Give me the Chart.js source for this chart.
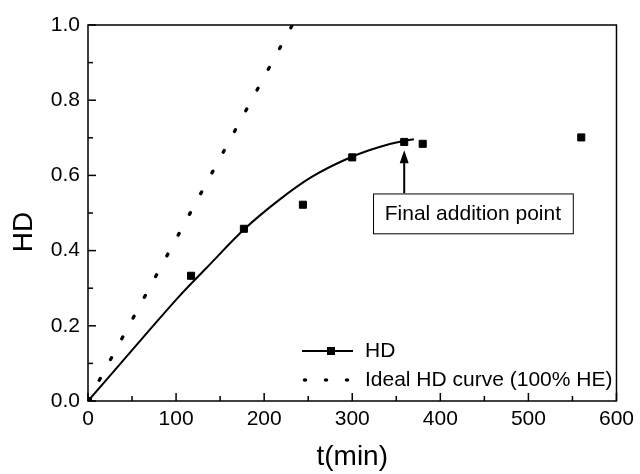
<!DOCTYPE html>
<html>
<head>
<meta charset="utf-8">
<script src="https://cdn.jsdelivr.net/npm/chart.js@4/dist/chart.umd.min.js"></script>
<style>
    html, body { margin: 0; padding: 0; background: #fff; }
</style>
</head>
<body>
<canvas id="chart" width="640" height="474"></canvas>
<script>
// measured HD points
const hdTime = [0, 117, 177, 244, 300, 359, 380, 560];
const hdValue = [0, 0.333, 0.458, 0.522, 0.648, 0.689, 0.684, 0.701];

// fitted curve
const fitTime = [0, 67, 103, 135, 177, 216, 254, 299, 330, 359, 370];
const fitValue = [0, 0.181, 0.277, 0.355, 0.456, 0.533, 0.596, 0.649, 0.675, 0.692, 0.696];

// ideal HD curve (100% HE)
const idealTime = [0, 232];
const idealValue = [0, 1.0];

const xTickValues = [0, 100, 200, 300, 400, 500, 600];
const xMinorValues = [50, 150, 250, 350, 450, 550];
const yTickValues = [0, 0.2, 0.4, 0.6, 0.8, 1.0];
const yMinorValues = [0.1, 0.3, 0.5, 0.7, 0.9];

const yTitle = "HD";
const noteText = "Final addition point";
const noteTime = 359;

const FONT = "'Liberation Sans', Arial, sans-serif";

const toPoints = (xs, ys) => xs.map((t, i) => ({ x: t, y: ys[i] }));

// frame, inward ticks, y title, legend and the arrow note
const decor = {
    id: "decor",
    afterDatasetsDraw(chart) {
        const { ctx, chartArea: a, scales: { x, y } } = chart;
        ctx.save();
        ctx.strokeStyle = "#000";
        ctx.fillStyle = "#000";
        ctx.lineWidth = 1.5;
        ctx.strokeRect(a.left, a.top, a.right - a.left, a.bottom - a.top);

        const seg = (x1, y1, x2, y2) => {
            ctx.beginPath(); ctx.moveTo(x1, y1); ctx.lineTo(x2, y2); ctx.stroke();
        };
        xTickValues.forEach(v => { const p = x.getPixelForValue(v); seg(p, a.bottom, p, a.bottom - 8); });
        xMinorValues.forEach(v => { const p = x.getPixelForValue(v); seg(p, a.bottom, p, a.bottom - 5); });
        yTickValues.forEach(v => { const p = y.getPixelForValue(v); seg(a.left, p, a.left + 8, p); });
        yMinorValues.forEach(v => { const p = y.getPixelForValue(v); seg(a.left, p, a.left + 5, p); });

        // y axis title, sits a bit below the middle in the original
        ctx.save();
        ctx.translate(24, 232);
        ctx.rotate(-Math.PI / 2);
        ctx.font = "28px " + FONT;
        ctx.textAlign = "center";
        ctx.textBaseline = "middle";
        ctx.fillText(yTitle, 0, 0);
        ctx.restore();

        // legend
        const ds = chart.data.datasets;
        const r1 = a.bottom - 50, r2 = a.bottom - 21;
        ctx.lineWidth = 2;
        seg(302, r1, 353, r1);
        ctx.fillRect(327, r1 - 4, 8, 8);
        [305, 326, 347].forEach(px => {
            ctx.beginPath(); ctx.ellipse(px, r2, 2.3, 1.7, 0, 0, Math.PI * 2); ctx.fill();
        });
        ctx.font = "21px " + FONT;
        ctx.textBaseline = "middle";
        ctx.textAlign = "left";
        ctx.fillText(ds[1].label, 365, r1);
        ctx.fillText(ds[2].label, 365, r2);

        // note box with arrow
        const ax = x.getPixelForValue(noteTime);
        const tipY = y.getPixelForValue(0.667);
        const boxTop = y.getPixelForValue(0.552);
        const boxBot = y.getPixelForValue(0.446);
        const bx1 = x.getPixelForValue(323.6), bx2 = x.getPixelForValue(550.4);
        ctx.lineWidth = 2;
        seg(ax, boxTop, ax, tipY + 10);
        ctx.beginPath();
        ctx.moveTo(ax, tipY);
        ctx.lineTo(ax - 4.5, tipY + 13);
        ctx.lineTo(ax + 4.5, tipY + 13);
        ctx.closePath();
        ctx.fill();
        ctx.fillStyle = "#fff";
        ctx.fillRect(bx1, boxTop, bx2 - bx1, boxBot - boxTop);
        ctx.lineWidth = 1;
        ctx.strokeRect(bx1 + 0.5, boxTop + 0.5, bx2 - bx1, boxBot - boxTop);
        ctx.fillStyle = "#000";
        ctx.textAlign = "center";
        ctx.fillText(noteText, (bx1 + bx2) / 2, (boxTop + boxBot) / 2 + 1);
        ctx.restore();
    }
};

new Chart(document.getElementById("chart"), {
    type: "scatter",
    data: {
        datasets: [
            {
                label: "fit",
                data: toPoints(fitTime, fitValue),
                showLine: true,
                borderColor: "#000",
                borderWidth: 2,
                pointRadius: 0,
                cubicInterpolationMode: "monotone"
            },
            {
                label: "HD",
                data: toPoints(hdTime, hdValue),
                showLine: false,
                pointStyle: "rect",
                pointRadius: 5,
                backgroundColor: "#000",
                borderColor: "#000",
                borderWidth: 1
            },
            {
                label: "Ideal HD curve (100% HE)",
                data: toPoints(idealTime, idealValue),
                showLine: true,
                borderColor: "#000",
                borderWidth: 3.3,
                borderDash: [2, 21.6],
                borderCapStyle: "round",
                pointRadius: 0
            }
        ]
    },
    options: {
        responsive: false,
        animation: false,
        devicePixelRatio: 1,
        layout: { padding: { left: 0, right: 20, top: 25, bottom: 0 } },
        plugins: { legend: { display: false }, tooltip: { enabled: false } },
        scales: {
            x: {
                type: "linear",
                min: 0, max: 600,
                grid: { display: false, drawTicks: false },
                border: { display: false },
                afterBuildTicks: s => { s.ticks = xTickValues.map(v => ({ value: v })); },
                afterFit: s => { s.height = 73; },
                ticks: {
                    padding: 6,
                    color: "#000",
                    font: { family: FONT, size: 21 },
                    maxRotation: 0,
                    callback: v => String(v)
                },
                title: {
                    display: true,
                    text: "t(min)",
                    color: "#000",
                    font: { family: FONT, size: 28 },
                    padding: { top: 0, bottom: 0 }
                }
            },
            y: {
                type: "linear",
                min: 0, max: 1,
                grid: { display: false, drawTicks: false },
                border: { display: false },
                afterBuildTicks: s => { s.ticks = yTickValues.map(v => ({ value: v })); },
                afterFit: s => { s.width = 88; },
                ticks: {
                    padding: 8,
                    color: "#000",
                    font: { family: FONT, size: 21 },
                    callback: v => v.toFixed(1)
                }
            }
        }
    },
    plugins: [decor]
});
</script>
</body>
</html>
